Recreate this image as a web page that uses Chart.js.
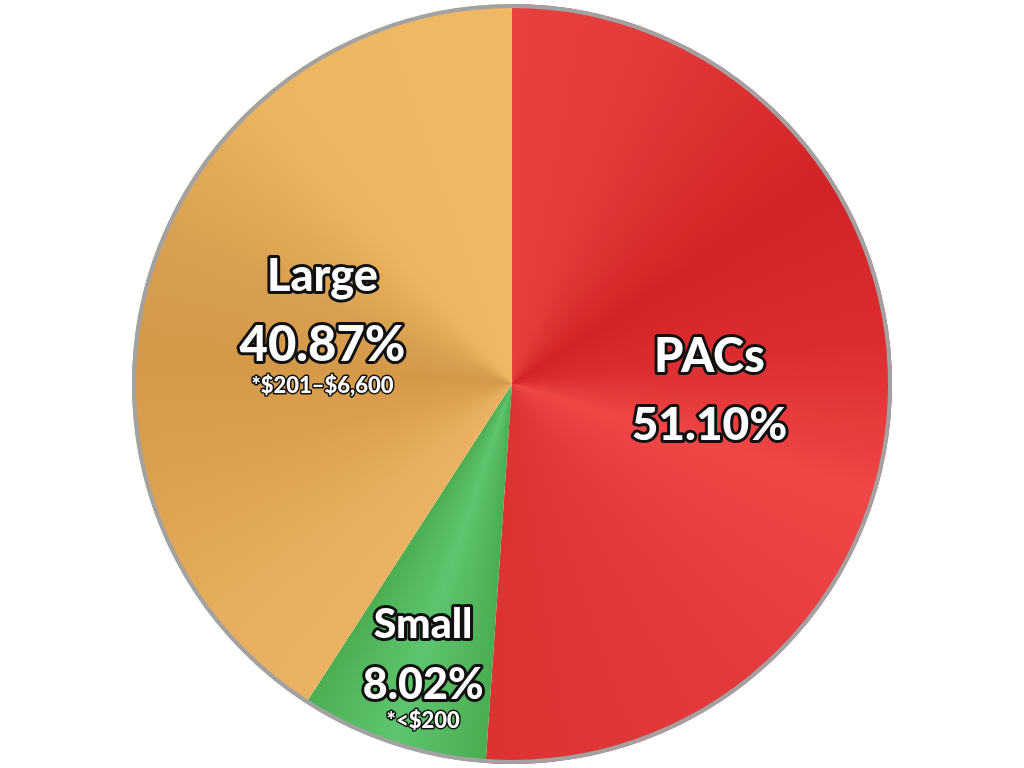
<!DOCTYPE html>
<html>
<head>
<meta charset="utf-8">
<script src="https://cdn.jsdelivr.net/npm/chart.js@4.4.1/dist/chart.umd.min.js"></script>
<style>
  html, body { margin: 0; padding: 0; background: #ffffff; }
  #wrap { width: 1024px; height: 768px; }
</style>
</head>
<body>
<div id="wrap"><canvas id="myChart" width="1024" height="768"></canvas></div>
<script>
// data
var categories = ['PACs', 'Small', 'Large'];
var shares = [51.10, 8.02, 40.87];
var notes = ['', '*<$200', '*$201\u2013$6,600'];

// shading of each slice: [position inside slice 0..1, colour]
var shading = [
    [[0, '#e8403f'], [0.12, '#e33a3a'], [0.31, '#d42326'], [0.45, '#dc2c2f'], [0.58, '#ef4646'], [0.78, '#e33a3c'], [1, '#dc3232']],
    [[0, '#4aad52'], [0.5, '#5ec56e'], [1, '#4bae53']],
    [[0, '#eab363'], [0.12, '#e6ae5e'], [0.3, '#dba04f'], [0.42, '#d49849'], [0.55, '#d9a051'], [0.72, '#ecb55f'], [0.9, '#efb863'], [1, '#eeb864']]
];

// label placement: radius fraction, x nudge, line offsets, font sizes
var labelStyle = [
    { r: 0.52, dx: 0, dy: [-34, 34], size: [47, 46] },
    { r: 0.79, dx: 6, dy: [-44, 16, 52], size: [41, 43, 22] },
    { r: 0.52, dx: 0, dy: [-52, 17, 58], size: [45, 49, 22] }
];

function sliceFill(context) {
    var chart = context.chart;
    var area = chart.chartArea;
    if (!area) return '#ccc';
    var i = context.dataIndex;
    var total = shares.reduce(function (a, b) { return a + b; }, 0);
    var start = 0;
    for (var k = 0; k < i; k++) start += shares[k] / total;
    var span = shares[i] / total;
    var cx = (area.left + area.right) / 2;
    var cy = (area.top + area.bottom) / 2;
    var g = chart.ctx.createConicGradient(-Math.PI / 2, cx, cy);
    shading[i].forEach(function (s) {
        g.addColorStop(Math.min(1, start + s[0] * span), s[1]);
    });
    return g;
}

const rimAndLabels = {
    id: 'rimAndLabels',
    afterDatasetsDraw(chart) {
        const ctx = chart.ctx;
        const arcs = chart.getDatasetMeta(0).data;
        if (!arcs.length) return;
        const a0 = arcs[0];
        // grey rim
        ctx.save();
        ctx.beginPath();
        ctx.arc(a0.x, a0.y, a0.outerRadius - 2, 0, Math.PI * 2);
        ctx.lineWidth = 4;
        ctx.strokeStyle = '#a2a2a2';
        ctx.stroke();
        ctx.restore();

        arcs.forEach(function (arc, i) {
            const st = labelStyle[i];
            const mid = (arc.startAngle + arc.endAngle) / 2;
            const r = arc.outerRadius * st.r;
            const x = arc.x + Math.cos(mid) * r + st.dx;
            const y = arc.y + Math.sin(mid) * r;
            const lines = [categories[i], shares[i].toFixed(2) + '%'];
            if (notes[i]) lines.push(notes[i]);
            ctx.save();
            ctx.textAlign = 'center';
            ctx.textBaseline = 'middle';
            ctx.lineJoin = 'round';
            lines.forEach(function (txt, j) {
                const size = st.size[j];
                ctx.font = '900 ' + size + 'px Lato, "DejaVu Sans", sans-serif';
                ctx.lineWidth = size > 30 ? 6 : 3;
                ctx.strokeStyle = '#111111';
                ctx.strokeText(txt, x, y + st.dy[j]);
                ctx.fillStyle = '#ffffff';
                ctx.fillText(txt, x, y + st.dy[j]);
            });
            ctx.restore();
        });
    }
};

const data = {
    labels: categories,
    datasets: [
        {
            data: shares,
            backgroundColor: sliceFill,
            borderWidth: 0
        }
    ]
};

const config = {
    type: 'pie',
    data,
    options: {
        responsive: false,
        animation: false,
        layout: { padding: 4 },
        plugins: {
            legend: { display: false },
            tooltip: { enabled: false }
        }
    },
    plugins: [rimAndLabels]
};

const myChart = new Chart(document.getElementById('myChart'), config);
</script>
</body>
</html>
